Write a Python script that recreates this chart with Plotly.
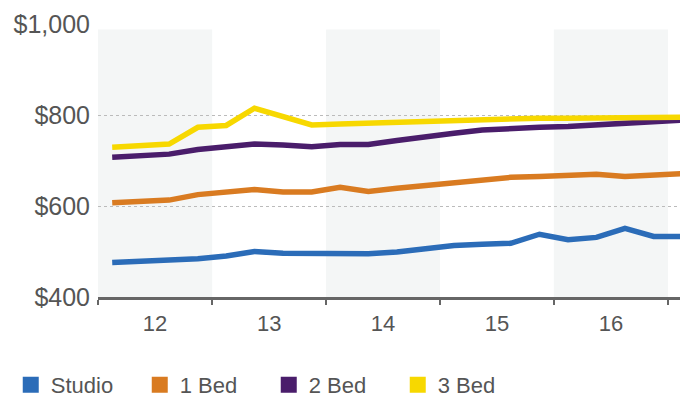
import pandas as pd
import plotly.graph_objects as go

# quarterly average rent, 2012 Q1 .. 2017 Q1
quarters = ["2012Q1", "2012Q2", "2012Q3", "2012Q4",
            "2013Q1", "2013Q2", "2013Q3", "2013Q4",
            "2014Q1", "2014Q2", "2014Q3", "2014Q4",
            "2015Q1", "2015Q2", "2015Q3", "2015Q4",
            "2016Q1", "2016Q2", "2016Q3", "2016Q4",
            "2017Q1"]

studio = [476, 478, 480, 484, 490, 500, 496, 495, 495, 495, 499,
          506, 513, 516, 518, 538, 526, 531, 551, 533, 533]
bed1 = [607, 609, 613, 625, 630, 636, 631, 631, 641, 632, 639,
        645, 652, 657, 663, 665, 668, 670, 665, 668, 671]
bed2 = [707, 710, 714, 724, 729, 736, 734, 730, 735, 735, 744,
        753, 760, 767, 771, 773, 775, 779, 783, 786, 789]
bed3 = [729, 732, 736, 773, 777, 815, 796, 778, 780, 782, 785,
        787, 789, 791, 792, 793, 793, 793, 794, 794, 795]

series_names = ["Studio", "1 Bed", "2 Bed", "3 Bed"]
colors = ["#2b6cb8", "#d97b21", "#4a1d6b", "#f7d800"]
shaded_years = [2012, 2014, 2016]

y_ticks = [400, 600, 800, 1000]
y_labels = ["$400", "$600", "$800", "$1,000"]

per = pd.PeriodIndex(quarters, freq="Q")
x = per.start_time + (per.end_time - per.start_time) / 2

fig = go.Figure()

for name, vals, col in zip(series_names, [studio, bed1, bed2, bed3], colors):
    fig.add_trace(go.Scatter(x=x, y=vals, mode="lines", name=name,
                             line=dict(color=col, width=5.5),
                             showlegend=False, hoverinfo="x+y"))

# square legend keys
for name, col in zip(series_names, colors):
    fig.add_trace(go.Scatter(x=[None], y=[None], mode="markers", name=name,
                             marker=dict(symbol="square", size=17, color=col)))

for yr in shaded_years:
    fig.add_shape(type="rect", xref="x", yref="paper",
                  x0=f"{yr}-01-01", x1=f"{yr + 1}-01-01", y0=0, y1=0.98,
                  fillcolor="#f4f6f6", line_width=0, layer="below")

# page body has an 8px margin, so the figure sits 8px right/down
fig.update_layout(
    width=688, height=400,
    margin=dict(l=90, r=13, t=16, b=111, autoexpand=False),
    plot_bgcolor="white", paper_bgcolor="white",
    font=dict(family="Liberation Sans, Arial", color="#555555"),
    legend=dict(orientation="h", xref="container", yref="container",
                x=0.004, y=0.0575, yanchor="middle", xanchor="left",
                entrywidth=84,
                font=dict(size=22, color="#555555")),
)

fig.update_xaxes(
    type="date", range=["2012-01-01", "2017-02-18"],
    tick0="2012-01-01", dtick="M12", tickformat="%y",
    ticklabelmode="period",
    ticks="outside", ticklen=5, tickwidth=2, tickcolor="#666666",
    showline=True, linecolor="#666666", linewidth=2.5,
    showgrid=False, zeroline=False, automargin=False,
    tickfont=dict(size=22, color="#555555"),
)

fig.update_yaxes(
    range=[400, 1000], tickvals=y_ticks, ticktext=y_labels,
    showgrid=True, gridcolor="#bbbbbb", griddash="dot", gridwidth=1,
    zeroline=False, showline=False, ticks="", automargin=False,
    ticklabelstandoff=7,
    tickfont=dict(size=25, color="#555555"),
)

fig.write_html("out.html")
